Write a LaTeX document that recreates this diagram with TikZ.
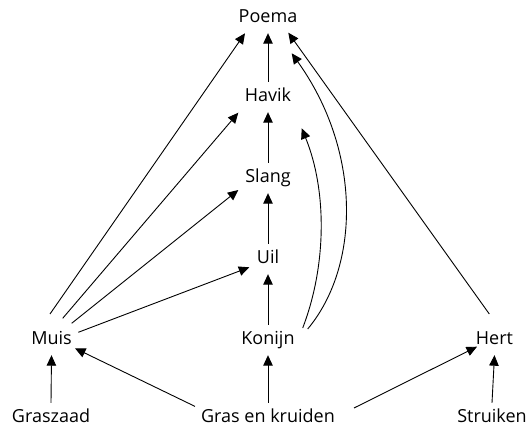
\documentclass[tikz,border=0pt]{standalone}
\usepackage{fontspec}
\setmainfont{Open Sans}
\usetikzlibrary{arrows.meta,calc}
\begin{document}
\begin{tikzpicture}[x=1pt,y=1pt,
  species/.style={anchor=base, inner xsep=0pt, inner ysep=8pt,
    text height=12pt, text depth=2pt, font=\fontsize{18}{21}\selectfont},
  feeds/.style={-{Triangle[length=10.5pt,width=9.5pt]}, line width=0.9pt, black}]
\useasboundingbox (0,0) rectangle (530,430);

% species, placed by their baselines
\node[species] (poema)    at (268,407)   {Poema};
\node[species] (havik)    at (268,328)   {Havik};
\node[species] (slang)    at (268,247)   {Slang};
\node[species] (uil)      at (268,166)   {Uil};
\node[species] (muis)     at (51.5,85)   {Muis};
\node[species] (konijn)   at (268,85)    {Konijn};
\node[species] (hert)     at (494.5,85)  {Hert};
\node[species] (graszaad) at (51,7)      {Graszaad};
\node[species] (gras)     at (268,7)     {Gras en kruiden};
\node[species] (struiken) at (492,7)     {Struiken};

% straight food chain up the middle
\draw[feeds] (havik.north)  -- (poema.south);
\draw[feeds] (slang.north)  -- (havik.south);
\draw[feeds] (uil.north)    -- (slang.south);
\draw[feeds] (konijn.north) -- (uil.south);
\draw[feeds] (gras.north)   -- (konijn.south);
\draw[feeds] (graszaad.north) -- (muis.south);
\draw[feeds] (struiken.north) -- (hert.south);

% the mouse is eaten by every predator
\draw[feeds] ($(muis.base)+(-1.5,31)$)  -- ($(poema.base)+(-23,-10.3)$);
\draw[feeds] ($(muis.base)+(11.2,26.7)$) -- ($(havik.base)+(-29.7,-10.7)$);
\draw[feeds] ($(muis.base)+(20.2,21.7)$) -- ($(slang.base)+(-29.7,-7)$);
\draw[feeds] ($(muis.base)+(26.8,12.7)$) -- ($(uil.base)+(-18.7,-3.3)$);

% deer and grass
\draw[feeds] ($(hert.base)+(-5.2,31)$) -- ($(poema.base)+(20.3,-9.7)$);
\draw[feeds] ($(gras.base)+(-73,16.6)$) -- ($(muis.base)+(23.5,-3.3)$);
\draw[feeds] ($(gras.base)+(86,15)$) -- ($(hert.base)+(-17.5,-1.7)$);

% rabbit curves up to hawk and puma
\draw[feeds] ($(konijn.base)+(34.7,17)$)
  .. controls (326.9,165) and (326.9,240) .. ($(havik.base)+(33.7,-26.3)$);
\draw[feeds] ($(konijn.base)+(39.7,16)$)
  .. controls (361,165) and (361,280) .. ($(poema.base)+(23.7,-30.3)$);
\end{tikzpicture}
\end{document}
